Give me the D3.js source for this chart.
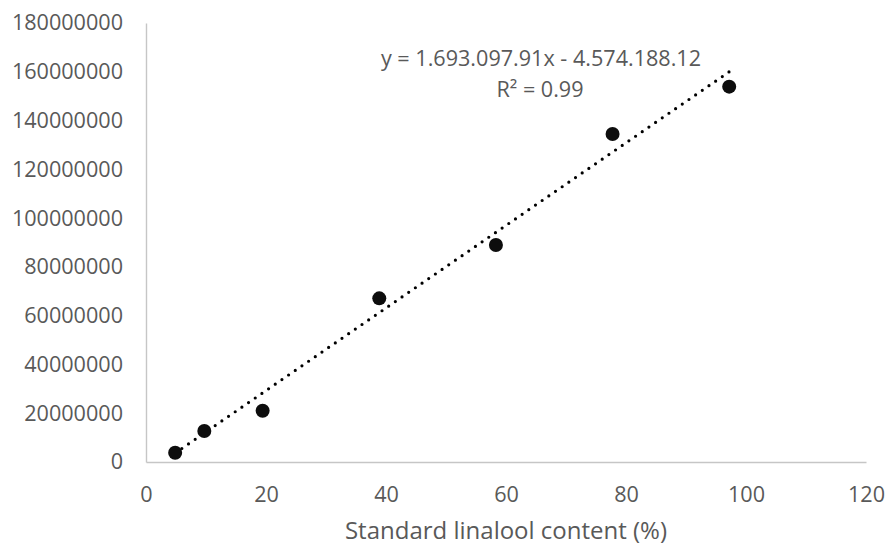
<!DOCTYPE html>
<html>
<head>
<meta charset="utf-8">
<script src="https://cdn.jsdelivr.net/npm/d3@7"></script>
<style>
  html, body { margin: 0; padding: 0; background: #fff; }
  svg { display: block; font-family: "Open Sans", "Noto Sans", sans-serif; }
</style>
</head>
<body>
<div id="chart"></div>
<script>
// Standard linalool calibration data
const contentPct = [4.86, 9.72, 19.44, 38.88, 58.32, 77.76, 97.2];
const peakArea = [3800000, 12700000, 21000000, 67100000, 89000000, 134500000, 153900000];

// Trendline as printed on the chart
const slope = 1693097.91;
const intercept = -4574188.12;
const equationLines = ['y = 1.693.097.91x - 4.574.188.12', 'R² = 0.99'];

const xTicks = [0, 20, 40, 60, 80, 100, 120];
const yTicks = [0, 20000000, 40000000, 60000000, 80000000, 100000000, 120000000, 140000000, 160000000, 180000000];
const xTitle = 'Standard linalool content (%)';

const width = 888;
const height = 549;
const margin = { top: 23, right: 22, bottom: 87, left: 146 };
const innerWidth = width - margin.left - margin.right;
const innerHeight = height - margin.top - margin.bottom;

const svg = d3.select('#chart').append('svg')
    .attr('width', width)
    .attr('height', height)
    .attr('viewBox', `0 0 ${width} ${height}`);

const g = svg.append('g')
    .attr('transform', `translate(${margin.left},${margin.top})`);

const xScale = d3.scaleLinear().domain([0, 120]).range([0, innerWidth]);
const yScale = d3.scaleLinear().domain([0, 180000000]).range([innerHeight, 0]);

const axisColor = '#c6c6c6';
const labelColor = '#595959';

// Axes: plain lines, no ticks
const xAxis = g.append('g')
    .attr('transform', `translate(0,${innerHeight})`)
    .call(d3.axisBottom(xScale).tickValues(xTicks).tickSize(0).tickPadding(22).tickFormat(d3.format('d')));

const yAxis = g.append('g')
    .call(d3.axisLeft(yScale).tickValues(yTicks).tickSize(0).tickPadding(23).tickFormat(d3.format('d')));

[xAxis, yAxis].forEach(ax => {
    ax.select('.domain').attr('stroke', axisColor).attr('stroke-width', 1.4);
    ax.selectAll('text')
        .style('font-size', '21.6px')
        .style('font-family', '"Open Sans", sans-serif')
        .attr('fill', labelColor);
});
xAxis.selectAll('text').attr('dy', '0.32em').attr('y', 33);

// Axis title
g.append('text')
    .attr('x', innerWidth / 2)
    .attr('y', 539 - margin.top)
    .attr('text-anchor', 'middle')
    .style('font-size', '24px')
    .attr('fill', labelColor)
    .text(xTitle);

// Dotted linear trendline over the data range
const xMin = d3.min(contentPct);
const xMax = d3.max(contentPct);
g.append('line')
    .attr('x1', xScale(xMin))
    .attr('y1', yScale(slope * xMin + intercept))
    .attr('x2', xScale(xMax))
    .attr('y2', yScale(slope * xMax + intercept))
    .attr('stroke', '#000')
    .attr('stroke-width', 3.2)
    .attr('stroke-linecap', 'round')
    .attr('stroke-dasharray', '0 8.1');

// Data points
g.selectAll('.pt')
    .data(contentPct)
    .enter()
    .append('circle')
    .attr('class', 'pt')
    .attr('cx', d => xScale(d))
    .attr('cy', (d, i) => yScale(peakArea[i]))
    .attr('r', 7)
    .attr('fill', '#0d0d0d');

// Equation label
const eq = svg.append('text')
    .attr('text-anchor', 'middle')
    .attr('fill', labelColor)
    .style('font-size', '21.6px');

eq.append('tspan')
    .attr('x', 541)
    .attr('y', 66)
    .text(equationLines[0]);

eq.append('tspan')
    .attr('x', 540)
    .attr('y', 97)
    .text(equationLines[1]);
</script>
</body>
</html>
